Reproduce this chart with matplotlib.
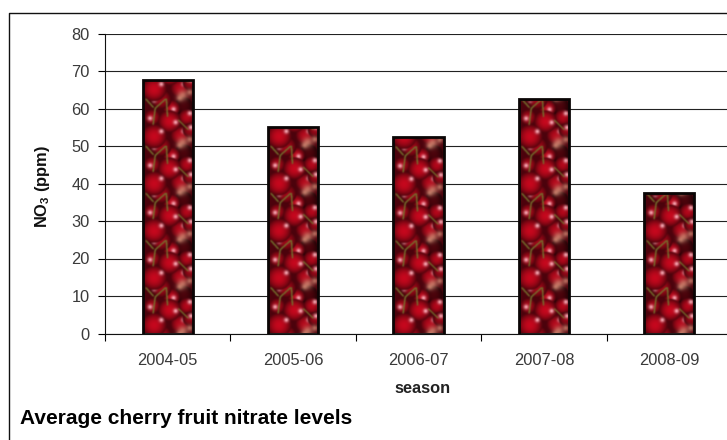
import matplotlib
matplotlib.use('Agg')
import matplotlib.pyplot as plt
import numpy as np

seasons = ['2004-05', '2005-06', '2006-07', '2007-08', '2008-09']
nitrate = [67.5, 55, 52.5, 62.5, 37.5]
y_ticks = [0, 10, 20, 30, 40, 50, 60, 70, 80]

W, H = 727, 440

# cherry fill pattern, in tile pixels measured from the tile's bottom left
TILE_W, TILE_H = 50, 47
SCALE = 3
# x, y, radius, brightness, highlight x, highlight y
cherries = [
    (40, 38, 9, 0.4, 42, 30),
    (9, 27, 8, 0.9, 7, 26),
    (43, 27, 8, 0.95, 46, 31),
    (28, 36, 8, 1.0, 30, 35),
    (18, 45, 10, 0.85, 11, 44),
    (36, 9, 9, 0.95, 40, 13),
    (26, 23, 11, 1.05, 32, 22),
    (11, 8, 12, 1.05, 18, 13),
    (46, 14, 7, 0.8, 47, 17),
]
# paler, washed out fruit towards the right edge
pale_spots = [(39, 2, 5), (46, 5, 3), (36, 46, 3)]
stems = [
    ((22, 45), (12, 36), (10, 20)),
    ((23, 45), (24, 28)),
    ((3, 45), (10, 37)),
    ((35, 24), (44, 15)),
]


def cherry_tile():
    ys, xs = np.mgrid[0:TILE_H * SCALE, 0:TILE_W * SCALE]
    xs = (xs + 0.5) / SCALE
    ys = (ys + 0.5) / SCALE
    img = np.zeros(xs.shape + (3,))
    img[...] = (0.30, 0.01, 0.05)
    for cx, cy, r, b, hx, hy in cherries:
        for shift in (-TILE_H, 0, TILE_H):
            d = np.hypot(xs - cx, ys - cy - shift) / r
            inside = d < 1
            shade = np.clip(1.0 - 0.6 * d ** 2, 0, 1) * b
            img[inside, 0] = (0.74 * shade)[inside]
            img[inside, 1] = (0.03 * shade)[inside]
            img[inside, 2] = (0.11 * shade)[inside]
            glow = np.exp(-((xs - hx) ** 2 + (ys - hy - shift) ** 2) / 5.0)
            glow = glow * inside
            for c, top in enumerate((1.0, 0.72, 0.76)):
                img[..., c] += (top - img[..., c]) * glow
    for cx, cy, r in pale_spots:
        for shift in (-TILE_H, 0, TILE_H):
            a = 0.7 * np.exp(-((xs - cx) ** 2 + (ys - cy - shift) ** 2) / r ** 2)
            for c, top in enumerate((0.90, 0.60, 0.50)):
                img[..., c] += (top - img[..., c]) * a
    for stem in stems:
        for (x0, y0), (x1, y1) in zip(stem, stem[1:]):
            for t in np.linspace(0, 1, 60):
                px, py = x0 + (x1 - x0) * t, y0 + (y1 - y0) * t
                near = (xs - px) ** 2 + (ys - py) ** 2 < 0.5
                for c, top in enumerate((0.46, 0.46, 0.18)):
                    img[..., c][near] = top
    # soften the hard edges between fruit
    for c in range(3):
        ch = img[..., c]
        for _ in range(8):
            ch = (np.roll(ch, 1, 0) + np.roll(ch, -1, 0) + np.roll(ch, 1, 1) + np.roll(ch, -1, 1) + ch) / 5
        img[..., c] = ch
    return np.clip(img, 0, 1)


plt.rcParams['font.family'] = ['Liberation Sans', 'DejaVu Sans']
plt.rcParams['mathtext.fontset'] = 'custom'
plt.rcParams['mathtext.bf'] = 'Liberation Sans:bold'
plt.rcParams['mathtext.rm'] = 'Liberation Sans'

fig = plt.figure(figsize=(W / 100, H / 100), dpi=100, facecolor='white')

# outer chart frame, open on the right and at the bottom
fig.add_artist(plt.Line2D([8.5 / W, 8.5 / W, 1], [0, 1 - 13.5 / H, 1 - 13.5 / H], color='#111111', lw=1.0))

ax = fig.add_axes([105 / W, 1 - 333.5 / H, 627 / W, 300 / H])
ax.set_xlim(-0.5, 4.5)
ax.set_ylim(0, 80)
ax.set_facecolor('white')
for side in ('top', 'right'):
    ax.spines[side].set_visible(False)
for side in ('left', 'bottom'):
    ax.spines[side].set_linewidth(0.8)
    ax.spines[side].set_color('#111111')

ax.set_yticks(y_ticks)
ax.tick_params(axis='y', length=5, width=0.8, pad=6, labelsize=11.8, labelcolor='#3a3a3a')
ax.yaxis.grid(True, color='#222222', lw=0.8)
ax.set_axisbelow(True)

# ticks sit between seasons, labels at the bar centres
ax.set_xticks(np.arange(-0.5, 5, 1))
ax.set_xticklabels([])
ax.set_xticks(range(len(seasons)), seasons, minor=True)
ax.tick_params(axis='x', which='major', length=5, width=0.8)
ax.tick_params(axis='x', which='minor', length=0, pad=14, labelsize=11.8, labelcolor='#3a3a3a')

bars = ax.bar(range(len(seasons)), nitrate, width=0.4, fill=False, edgecolor='#0a0505', lw=2.0, zorder=4)

tile = cherry_tile()
tile_units = TILE_H * 80 / 300
for bar, value in zip(bars, nitrate):
    repeats = int(np.ceil(value / tile_units))
    x0 = bar.get_x()
    im = ax.imshow(np.tile(tile, (repeats, 1, 1)), origin='lower', aspect='auto', zorder=3,
                   extent=(x0, x0 + bar.get_width(), 0, repeats * tile_units), interpolation='bilinear')
    im.set_clip_path(bar)
ax.set_xlim(-0.5, 4.5)
ax.set_ylim(0, 80)

fig.text(42 / W, 1 - 187 / H, r'$\mathbf{NO_3}$ (ppm)', rotation=90, ha='center', va='center',
         fontsize=11.8, fontweight='bold', color='#111111')
fig.text(423 / W, 1 - 388 / H, 'season', ha='center', va='center', fontsize=11.8, fontweight='bold', color='#222222')
fig.text(20 / W, 1 - 418 / H, 'Average cherry fruit nitrate levels', ha='left', va='center',
         fontsize=15, fontweight='bold', color='black')

fig.savefig('out.png', dpi=100, facecolor='white')
